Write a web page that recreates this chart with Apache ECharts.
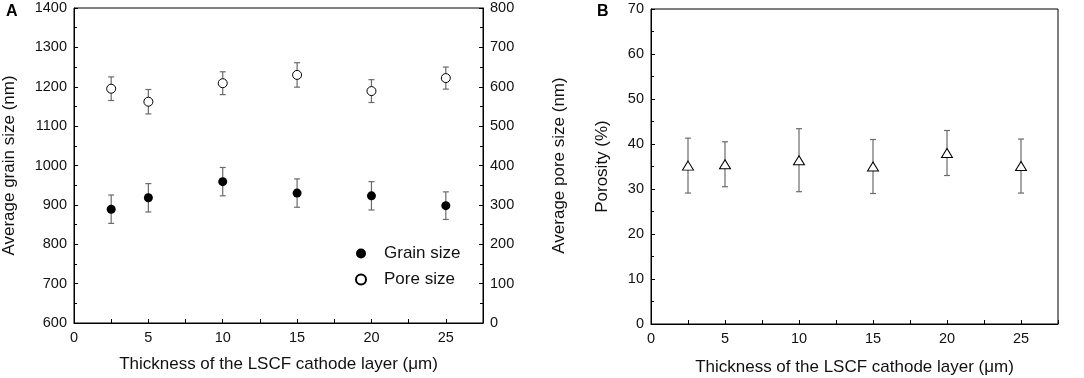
<!DOCTYPE html>
<html>
<head>
<meta charset="utf-8">
<script src="https://cdn.jsdelivr.net/npm/echarts@6/dist/echarts.min.js"></script>
<style>
  html, body { margin: 0; padding: 0; background: #fff; }
  #main { width: 1084px; height: 378px; }
</style>
</head>
<body>
<div id="main"></div>
<script>
// thickness of the LSCF cathode layer (um)
var thickness = [2.5, 5, 10, 15, 20, 25];
// panel A
var grainSize = [889, 918, 959, 930, 923, 898];
var grainErr = [36, 36, 36, 36, 36, 35];
var poreSize = [595, 562, 609, 630, 589, 622];
var poreErr = [30, 31, 29, 31, 29, 28];
// panel B
var porosity = [35.2, 35.5, 36.4, 35.0, 38.0, 35.1];
var porosityErr = [6.1, 5.0, 7.0, 6.0, 5.0, 6.0];

var FONT = '"Liberation Sans", Arial, sans-serif';
var TXT = '#111';

function pairs(xs, ys) {
	return xs.map(function (x, i) { return [x, ys[i]]; });
}
function bars(xs, ys, es) {
	return xs.map(function (x, i) { return [x, ys[i] - es[i], ys[i] + es[i]]; });
}

// error bar drawn with caps
function renderBar(params, api) {
	var x = api.value(0);
	var lo = api.coord([x, api.value(1)]);
	var hi = api.coord([x, api.value(2)]);
	var w = 3;
	var st = { stroke: '#6b6b6b', lineWidth: 1.2 };
	return {
		type: 'group',
		children: [
			{ type: 'line', shape: { x1: lo[0], y1: lo[1], x2: hi[0], y2: hi[1] }, style: st },
			{ type: 'line', shape: { x1: lo[0] - w, y1: lo[1], x2: lo[0] + w, y2: lo[1] }, style: st },
			{ type: 'line', shape: { x1: hi[0] - w, y1: hi[1], x2: hi[0] + w, y2: hi[1] }, style: st }
		]
	};
}

function xAxisCfg(gridIndex, gap) {
	return {
		gridIndex: gridIndex,
		type: 'value',
		min: 0,
		max: 27.5,
		interval: 2.5,
		name: 'Thickness of the LSCF cathode layer (\u03bcm)',
		nameLocation: 'middle',
		nameGap: gap,
		nameTextStyle: { fontFamily: FONT, fontSize: 17, color: TXT },
		axisLine: { show: true, onZero: false, lineStyle: { color: '#000', width: 1 } },
		axisTick: { show: true, inside: true, length: 4, lineStyle: { color: '#000' } },
		axisLabel: {
			fontFamily: FONT, fontSize: 14.5, color: TXT, margin: 7,
			formatter: function (v) { return v % 5 === 0 ? String(v) : ''; }
		},
		splitLine: { show: false }
	};
}

function yAxisCfg(gridIndex, min, max, interval, name, pos, gap) {
	return {
		gridIndex: gridIndex,
		type: 'value',
		position: pos,
		min: min,
		max: max,
		interval: interval,
		name: name,
		nameLocation: 'middle',
		nameRotate: 90,
		nameGap: gap,
		nameTextStyle: { fontFamily: FONT, fontSize: 17, color: TXT },
		axisLine: { show: true, onZero: false, lineStyle: { color: '#000', width: 1 } },
		axisTick: { show: true, inside: true, length: 4, lineStyle: { color: '#000' } },
		minorTick: { show: true, splitNumber: 2, length: 3, lineStyle: { color: '#000' } },
		axisLabel: {
			fontFamily: FONT, fontSize: 14.5, color: TXT, margin: 7,
			formatter: function (v) { return String(v); }
		},
		splitLine: { show: false }
	};
}

var myChart = echarts.init(document.getElementById('main'));
var option = {
	animation: false,
	backgroundColor: '#fff',
	graphic: [
		{ type: 'text', left: 6, top: 4, style: { text: 'A', font: 'bold 16px ' + FONT, fill: '#000' } },
		{ type: 'text', left: 597, top: 4, style: { text: 'B', font: 'bold 16px ' + FONT, fill: '#000' } }
	],
	legend: {
		orient: 'vertical',
		left: 350,
		top: 240,
		itemWidth: 10,
		itemHeight: 10,
		itemGap: 9,
		icon: 'circle',
		textStyle: { fontFamily: FONT, fontSize: 17, color: TXT, padding: [0, 0, 0, 13] },
		data: ['Grain size', 'Pore size']
	},
	grid: [
		{ left: 74, right: 601, top: 8, bottom: 55, outerBoundsMode: 'none', show: true, borderColor: '#000', borderWidth: 1 },
		{ left: 651, right: 26, top: 9, bottom: 54, outerBoundsMode: 'none', show: true, borderColor: '#000', borderWidth: 1 }
	],
	xAxis: [xAxisCfg(0, 33), xAxisCfg(1, 35)],
	yAxis: [
		yAxisCfg(0, 600, 1400, 100, 'Average grain size (nm)', 'left', 56),
		yAxisCfg(0, 0, 800, 100, 'Average pore size (nm)', 'right', 68),
		yAxisCfg(1, 0, 70, 10, 'Porosity (%)', 'left', 40)
	],
	series: [
		{
			type: 'custom', name: 'grainErr', xAxisIndex: 0, yAxisIndex: 0, z: 1,
			renderItem: renderBar, encode: { x: 0, y: [1, 2] },
			data: bars(thickness, grainSize, grainErr)
		},
		{
			type: 'custom', name: 'poreErr', xAxisIndex: 0, yAxisIndex: 1, z: 1,
			renderItem: renderBar, encode: { x: 0, y: [1, 2] },
			data: bars(thickness, poreSize, poreErr)
		},
		{
			type: 'custom', name: 'porosityErr', xAxisIndex: 1, yAxisIndex: 2, z: 1,
			renderItem: renderBar, encode: { x: 0, y: [1, 2] },
			data: bars(thickness, porosity, porosityErr)
		},
		{
			type: 'scatter', name: 'Grain size', xAxisIndex: 0, yAxisIndex: 0, z: 3,
			symbol: 'circle', symbolSize: 9,
			itemStyle: { color: '#000', opacity: 1 },
			data: pairs(thickness, grainSize)
		},
		{
			type: 'scatter', name: 'Pore size', xAxisIndex: 0, yAxisIndex: 1, z: 3,
			symbol: 'circle', symbolSize: 9,
			itemStyle: { color: '#fff', borderColor: '#000', borderWidth: 1, opacity: 1 },
			data: pairs(thickness, poreSize)
		},
		{
			type: 'scatter', name: 'Porosity', xAxisIndex: 1, yAxisIndex: 2, z: 3,
			symbol: 'triangle', symbolSize: [11, 9],
			itemStyle: { color: '#fff', borderColor: '#000', borderWidth: 1, opacity: 1 },
			data: pairs(thickness, porosity)
		}
	]
};
myChart.setOption(option);
</script>
</body>
</html>
